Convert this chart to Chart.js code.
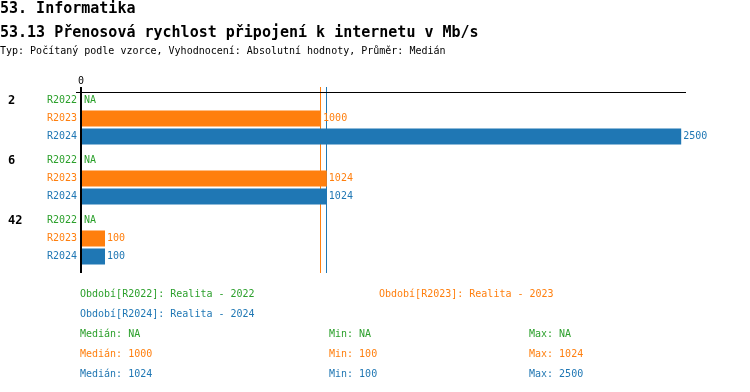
<!DOCTYPE html>
<html>
<head>
<meta charset="utf-8">
<script src="https://cdn.jsdelivr.net/npm/chart.js@4/dist/chart.umd.min.js"></script>
<style>
  body { margin: 0; background: #fff; }
  #wrap { width: 750px; height: 392px; }
</style>
</head>
<body>
<div id="wrap"><canvas id="chart" width="750" height="392"></canvas></div>
<script>
const groups = ['2', '6', '42'];
const periods = ['R2022', 'R2023', 'R2024'];
const valuesR2022 = [null, null, null];
const valuesR2023 = [1000, 1024, 100];
const valuesR2024 = [2500, 1024, 100];
const periodNames = ['Realita - 2022', 'Realita - 2023', 'Realita - 2024'];
const colors = ['#2ca02c', '#ff7f0e', '#1f77b4'];

const title1 = '53. Informatika';
const title2 = '53.13 Přenosová rychlost připojení k internetu v Mb/s';
const subtitle = 'Typ: Počítaný podle vzorce, Vyhodnocení: Absolutní hodnoty, Průměr: Medián';

const series = [valuesR2022, valuesR2023, valuesR2024];
const MONO = '"DejaVu Sans Mono", monospace';

function stats(arr) {
  const v = arr.filter(x => x !== null).sort((a, b) => a - b);
  if (!v.length) return null;
  const m = v.length % 2 ? v[(v.length - 1) / 2] : (v[v.length / 2 - 1] + v[v.length / 2]) / 2;
  return { median: m, min: v[0], max: v[v.length - 1] };
}
const seriesStats = series.map(stats);

function rowY(chart, gi, di) {
  const y = chart.scales.y;
  const center = y.getPixelForValue(gi);
  const band = (y.getPixelForValue(1) - y.getPixelForValue(0)) * 0.9;
  return center - band / 2 + band / 3 * (di + 0.5);
}

const overlay = {
  id: 'overlay',
  beforeDatasetsDraw(chart) {
    const ctx = chart.ctx, x = chart.scales.x;
    ctx.save();
    ctx.lineWidth = 1;
    seriesStats.forEach((s, i) => {
      if (!s) return;
      const px = Math.round(x.getPixelForValue(s.median)) - 0.5;
      ctx.strokeStyle = colors[i];
      ctx.beginPath(); ctx.moveTo(px, 87); ctx.lineTo(px, 273); ctx.stroke();
    });
    ctx.restore();
  },
  afterDraw(chart) {
    const ctx = chart.ctx, x = chart.scales.x;
    const zero = x.getPixelForValue(0);
    ctx.save();
    // titles
    ctx.fillStyle = '#000';
    ctx.textAlign = 'left';
    ctx.textBaseline = 'alphabetic';
    ctx.font = 'bold 15px ' + MONO;
    ctx.fillText(title1, 0, 13);
    ctx.fillText(title2, 0, 37);
    ctx.font = '10px ' + MONO;
    ctx.fillText(subtitle, 0, 54);
    ctx.textBaseline = 'middle';
    // axes
    ctx.strokeStyle = '#000';
    ctx.lineWidth = 1;
    ctx.beginPath(); ctx.moveTo(76, 92.5); ctx.lineTo(chart.chartArea.right, 92.5); ctx.stroke();
    ctx.lineWidth = 2;
    ctx.beginPath(); ctx.moveTo(zero, 87); ctx.lineTo(zero, 273); ctx.stroke();
    ctx.textAlign = 'center';
    ctx.fillText('0', zero, 81);
    // rows
    groups.forEach((g, gi) => {
      ctx.fillStyle = '#000';
      ctx.font = 'bold 12px ' + MONO;
      ctx.textAlign = 'left';
      ctx.fillText(g, 8, rowY(chart, gi, 0));
      periods.forEach((p, di) => {
        const y = rowY(chart, gi, di);
        ctx.fillStyle = colors[di];
        ctx.font = '10px ' + MONO;
        ctx.textAlign = 'right';
        ctx.fillText(p, 77, y);
        ctx.textAlign = 'left';
        const v = series[di][gi];
        if (v === null) ctx.fillText('NA', zero + 3, y);
        else ctx.fillText(String(v), x.getPixelForValue(v) + 2, y);
      });
    });
    // legend
    ctx.font = '10px ' + MONO;
    ctx.textAlign = 'left';
    const legendPos = [[80, 294], [379, 294], [80, 314]];
    periods.forEach((p, i) => {
      ctx.fillStyle = colors[i];
      ctx.fillText('Období[' + p + ']: ' + periodNames[i], legendPos[i][0], legendPos[i][1]);
    });
    periods.forEach((p, i) => {
      const s = seriesStats[i];
      const y = 334 + i * 20;
      ctx.fillStyle = colors[i];
      ctx.fillText('Medián: ' + (s ? s.median : 'NA'), 80, y);
      ctx.fillText('Min: ' + (s ? s.min : 'NA'), 329, y);
      ctx.fillText('Max: ' + (s ? s.max : 'NA'), 529, y);
    });
    ctx.restore();
  }
};

new Chart(document.getElementById('chart'), {
  type: 'bar',
  data: {
    labels: groups,
    datasets: periods.map((p, i) => ({
      label: p,
      data: series[i],
      backgroundColor: colors[i],
      borderWidth: 0,
      categoryPercentage: 0.9,
      barPercentage: 16 / 18
    }))
  },
  options: {
    indexAxis: 'y',
    responsive: false,
    animation: false,
    layout: { padding: { left: 81, right: 64, top: 88.5, bottom: 123.5 } },
    plugins: { legend: { display: false }, tooltip: { enabled: false } },
    scales: {
      x: { display: false, min: 0, max: 2520 },
      y: { display: false }
    }
  },
  plugins: [overlay]
});
</script>
</body>
</html>
